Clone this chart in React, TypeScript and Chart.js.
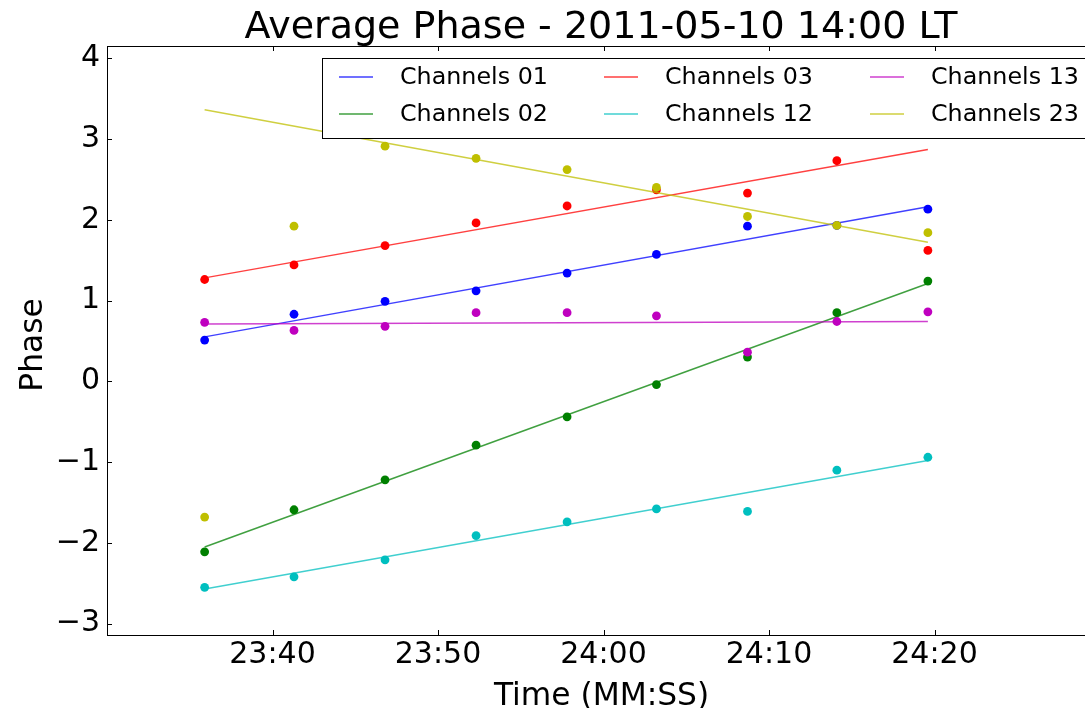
import React, { useEffect, useRef } from 'react';
import { Chart, registerables } from 'chart.js';

Chart.register(...registerables);

// ---------- data ----------
const TITLE = 'Average Phase - 2011-05-10 14:00 LT';
const X_LABEL = 'Time (MM:SS)';
const Y_LABEL = 'Phase';

// sample times, in seconds (MM*60 + SS)
const times = [1415.9, 1421.3, 1426.8, 1432.3, 1437.8, 1443.2, 1448.7, 1454.1, 1459.6];
const xTicks = [1420, 1430, 1440, 1450, 1460];
const yTicks = [-3, -2, -1, 0, 1, 2, 3, 4];
const X_MIN = 1410;
const X_MAX = 1470;
const Y_MIN = -3.14;
const Y_MAX = 4.15;

const channelNames = ['Channels 01', 'Channels 02', 'Channels 03', 'Channels 12', 'Channels 13', 'Channels 23'];

const ch01 = [0.51, 0.83, 0.99, 1.12, 1.34, 1.57, 1.92, 1.93, 2.13];
const ch02 = [-2.11, -1.59, -1.22, -0.79, -0.44, -0.04, 0.3, 0.85, 1.24];
const ch03 = [1.26, 1.44, 1.68, 1.96, 2.17, 2.37, 2.33, 2.73, 1.62];
const ch12 = [-2.55, -2.42, -2.21, -1.91, -1.74, -1.58, -1.61, -1.1, -0.94];
const ch13 = [0.73, 0.63, 0.68, 0.85, 0.85, 0.81, 0.36, 0.74, 0.86];
const ch23 = [-1.68, 1.92, 2.91, 2.76, 2.62, 2.4, 2.04, 1.93, 1.84];

// fitted line: value at first and last sample time
const fit01 = [0.55, 2.16];
const fit02 = [-2.05, 1.21];
const fit03 = [1.28, 2.87];
const fit12 = [-2.57, -0.98];
const fit13 = [0.71, 0.74];
const fit23 = [3.36, 1.72];

// ---------- styles ----------
const FONT = '"DejaVu Sans", "Bitstream Vera Sans", sans-serif';
const pointColors = ['#0000ff', '#008000', '#ff0000', '#00bfbf', '#bf00bf', '#bfbf00'];
const lineColors = [
  'rgba(0,0,255,0.75)',
  'rgba(0,128,0,0.75)',
  'rgba(255,0,0,0.75)',
  'rgba(0,191,191,0.75)',
  'rgba(191,0,191,0.75)',
  'rgba(191,191,0,0.75)',
];

const seriesList = [ch01, ch02, ch03, ch12, ch13, ch23];
const fitList = [fit01, fit02, fit03, fit12, fit13, fit23];

const fmtTime = (v: number) => {
  const mm = Math.floor(v / 60);
  const ss = Math.round(v - mm * 60);
  return `${mm}:${ss < 10 ? '0' + ss : ss}`;
};
const fmtNum = (v: number) => (v < 0 ? '\u2212' + Math.abs(v) : String(v));

const decorPlugin = {
  id: 'decor',
  afterDraw(chart: any) {
    const { ctx, chartArea: a, scales } = chart;
    const xs = scales.x;
    const ys = scales.y;
    ctx.save();
    // frame
    ctx.strokeStyle = '#000';
    ctx.lineWidth = 1;
    ctx.strokeRect(Math.round(a.left) + 0.5, Math.round(a.top) + 0.5, Math.round(a.right - a.left), Math.round(a.bottom - a.top));
    // inward ticks
    ctx.beginPath();
    xTicks.forEach((v) => {
      const px = Math.round(xs.getPixelForValue(v)) + 0.5;
      ctx.moveTo(px, a.bottom);
      ctx.lineTo(px, a.bottom - 5);
      ctx.moveTo(px, a.top);
      ctx.lineTo(px, a.top + 5);
    });
    yTicks.forEach((v) => {
      const py = Math.round(ys.getPixelForValue(v)) + 0.5;
      ctx.moveTo(a.left, py);
      ctx.lineTo(a.left + 5, py);
      ctx.moveTo(a.right, py);
      ctx.lineTo(a.right - 5, py);
    });
    ctx.stroke();

    // title and axis titles
    ctx.fillStyle = '#000';
    ctx.textAlign = 'center';
    ctx.textBaseline = 'alphabetic';
    ctx.font = `38px ${FONT}`;
    ctx.fillText(TITLE, 601, 38);
    ctx.font = `31.3px ${FONT}`;
    ctx.fillText(X_LABEL, 601.5, 705);
    ctx.save();
    ctx.translate(42, 345);
    ctx.rotate(-Math.PI / 2);
    ctx.fillText(Y_LABEL, 0, 0);
    ctx.restore();

    // legend
    ctx.fillStyle = '#fff';
    ctx.fillRect(322.5, 58.5, 775, 80);
    ctx.strokeStyle = '#000';
    ctx.lineWidth = 1;
    ctx.strokeRect(322.5, 58.5, 775, 80);
    const handleX = [339, 604, 870];
    const textX = [400, 665, 931];
    const rowY = [77, 114];
    ctx.font = `23.8px ${FONT}`;
    ctx.textAlign = 'left';
    ctx.textBaseline = 'middle';
    channelNames.forEach((name, i) => {
      const col = Math.floor(i / 2);
      const row = i % 2;
      const y = rowY[row];
      ctx.strokeStyle = lineColors[i];
      ctx.lineWidth = 1.5;
      ctx.beginPath();
      ctx.moveTo(handleX[col], y);
      ctx.lineTo(handleX[col] + 34, y);
      ctx.stroke();
      ctx.fillStyle = '#000';
      ctx.fillText(name, textX[col], y + 1);
    });
    ctx.restore();
  },
};

export default function App() {
  const ref = useRef<HTMLCanvasElement | null>(null);

  useEffect(() => {
    if (!ref.current) return;
    const datasets: any[] = [];
    let order = 100;
    seriesList.forEach((vals, i) => {
      datasets.push({
        label: channelNames[i],
        data: vals.map((v, k) => ({ x: times[k], y: v })),
        showLine: false,
        pointRadius: 4.4,
        pointBorderWidth: 0,
        pointBackgroundColor: pointColors[i],
        backgroundColor: pointColors[i],
        borderColor: pointColors[i],
        order: order--,
      });
      datasets.push({
        label: channelNames[i] + ' fit',
        data: [
          { x: times[0], y: fitList[i][0] },
          { x: times[times.length - 1], y: fitList[i][1] },
        ],
        showLine: true,
        pointRadius: 0,
        borderWidth: 1.5,
        borderColor: lineColors[i],
        backgroundColor: lineColors[i],
        fill: false,
        order: order--,
      });
    });

    const chart = new Chart(ref.current, {
      type: 'scatter',
      data: { datasets },
      options: {
        responsive: false,
        animation: false,
        devicePixelRatio: 1,
        layout: { padding: { left: 0, top: 46, right: 10, bottom: 0 } },
        plugins: {
          legend: { display: false },
          title: { display: false },
          tooltip: { enabled: false },
        },
        scales: {
          x: {
            type: 'linear',
            position: 'bottom',
            min: X_MIN,
            max: X_MAX,
            afterBuildTicks: (s: any) => {
              s.ticks = xTicks.map((v) => ({ value: v }));
            },
            afterFit: (s: any) => {
              s.height = 73;
            },
            grid: { display: false, drawTicks: false },
            border: { display: false },
            ticks: {
              font: { family: FONT, size: 30 },
              color: '#000',
              padding: 2,
              maxRotation: 0,
              autoSkip: false,
              callback: (v: any) => fmtTime(Number(v)),
            },
          },
          y: {
            type: 'linear',
            min: Y_MIN,
            max: Y_MAX,
            afterBuildTicks: (s: any) => {
              s.ticks = yTicks.map((v) => ({ value: v }));
            },
            afterFit: (s: any) => {
              s.width = 107;
            },
            grid: { display: false, drawTicks: false },
            border: { display: false },
            ticks: {
              font: { family: FONT, size: 30 },
              color: '#000',
              padding: 7,
              autoSkip: false,
              callback: (v: any) => fmtNum(Number(v)),
            },
          },
        },
      },
      plugins: [decorPlugin],
    });
    return () => chart.destroy();
  }, []);

  return (
    <div
      style={{
        position: 'fixed',
        left: 0,
        top: 0,
        width: 1085,
        height: 708,
        overflow: 'hidden',
        background: '#fff',
      }}
    >
      <canvas ref={ref} width={1110} height={708} style={{ display: 'block', width: 1110, height: 708 }} />
    </div>
  );
}
